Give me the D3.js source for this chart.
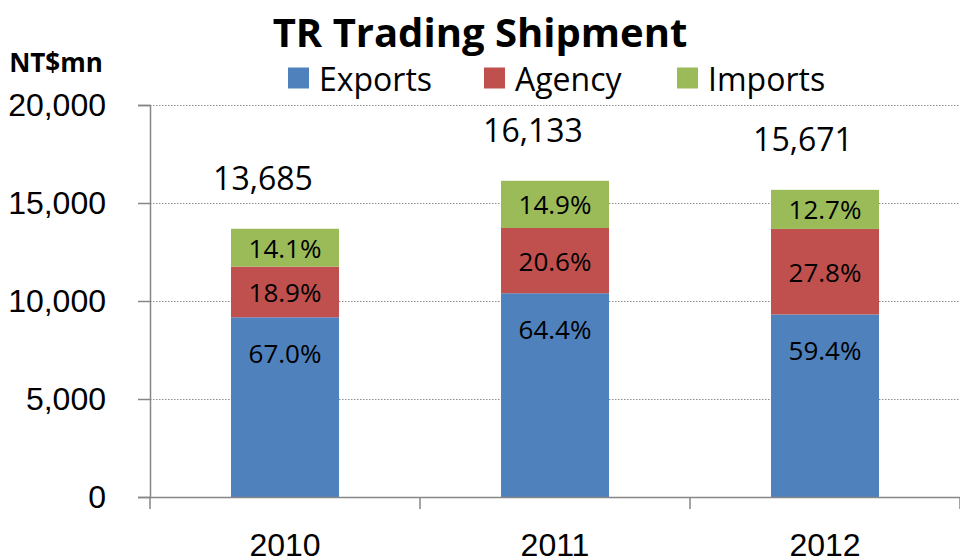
<!DOCTYPE html>
<html>
<head>
<meta charset="utf-8">
<script src="https://cdn.jsdelivr.net/npm/d3@7"></script>
<style>
  body { margin: 0; background: #fff; }
  svg { font-family: "Open Sans", "Noto Sans", sans-serif; }
</style>
</head>
<body>
<svg id="chart" width="960" height="560"></svg>
<script>
// chart values
const years = ["2010", "2011", "2012"];
const seriesNames = ["Exports", "Agency", "Imports"];
const exportsVal = [9169, 10395, 9315];
const agencyVal = [2586, 3330, 4362];
const importsVal = [1930, 2408, 1994];
const totals = [13685, 16133, 15671];
const exportsPct = ["67.0%", "64.4%", "59.4%"];
const agencyPct = ["18.9%", "20.6%", "27.8%"];
const importsPct = ["14.1%", "14.9%", "12.7%"];
const yTicks = [0, 5000, 10000, 15000, 20000];

const colors = {
    "Exports": "#4f81bd",
    "Agency": "#c0504d",
    "Imports": "#9bbb59"
};

const svg = d3.select("svg#chart");

let margin = { top: 105, right: 0, bottom: 63, left: 150 };
let plotWidth = 960 - margin.left - margin.right;
let plotHeight = 560 - margin.top - margin.bottom;

let rows = years.map((y, i) => ({
    year: y,
    Exports: exportsVal[i],
    Agency: agencyVal[i],
    Imports: importsVal[i],
    total: totals[i],
    labels: { Exports: exportsPct[i], Agency: agencyPct[i], Imports: importsPct[i] }
}));

let stacked = d3.stack().keys(seriesNames)(rows);

let x = d3.scaleBand()
    .domain(years)
    .range([0, plotWidth])
    .paddingInner(0.6)
    .paddingOuter(0.3);

let y = d3.scaleLinear()
    .domain([0, 20000])
    .range([plotHeight, 0]);

let plot = svg.append("g")
    .attr("transform", "translate(" + margin.left + "," + margin.top + ")");

// dotted gridlines
plot.append("g")
    .selectAll("line")
    .data(yTicks.filter(d => d > 0))
    .join("line")
    .attr("x1", 0)
    .attr("x2", plotWidth)
    .attr("y1", d => Math.round(y(d)) + 0.5)
    .attr("y2", d => Math.round(y(d)) + 0.5)
    .attr("stroke", "#8c8c8c")
    .attr("stroke-width", 1)
    .attr("stroke-dasharray", "1.5,1.5");

// bars
let layers = plot.append("g")
    .selectAll("g")
    .data(stacked)
    .join("g")
    .attr("fill", d => colors[d.key]);

layers.selectAll("rect")
    .data(d => d)
    .join("rect")
    .attr("x", d => x(d.data.year))
    .attr("y", d => y(d[1]))
    .attr("width", x.bandwidth())
    .attr("height", d => y(d[0]) - y(d[1]));

// percentage labels
stacked.forEach(layer => {
    plot.append("g")
        .selectAll("text")
        .data(layer)
        .join("text")
        .attr("x", d => x(d.data.year) + x.bandwidth() / 2)
        .attr("y", d => layer.key === "Exports"
            ? y(d[1]) + 36
            : (y(d[0]) + y(d[1])) / 2)
        .attr("text-anchor", "middle")
        .attr("dominant-baseline", "central")
        .attr("font-size", "26px")
        .attr("fill", "#000")
        .text(d => d.data.labels[layer.key]);
});

// totals
plot.append("g")
    .selectAll("text")
    .data(rows)
    .join("text")
    .attr("x", d => x(d.year) + x.bandwidth() / 2 - 22)
    .attr("y", d => y(d.total) - 51)
    .attr("text-anchor", "middle")
    .attr("dominant-baseline", "central")
    .attr("font-size", "32px")
    .attr("fill", "#000")
    .text(d => d3.format(",")(d.total));

// axes
let xAxis = d3.axisBottom(x).tickSize(0).tickPadding(36);
let yAxis = d3.axisLeft(y).tickValues(yTicks).tickSize(12).tickPadding(32)
    .tickFormat(d3.format(","));

let gx = plot.append("g")
    .attr("transform", "translate(0," + plotHeight + ")")
    .call(xAxis);
gx.select(".domain").attr("stroke", "#868686").attr("stroke-width", 1.5);
gx.selectAll("text").attr("font-size", "32px").attr("fill", "#000");

// category boundary ticks
let edge = i => i * x.step() - x.step() * x.paddingOuter() + x.step() * x.paddingInner() / 2;
gx.selectAll(".bound")
    .data(d3.range(years.length + 1))
    .join("line")
    .attr("class", "bound")
    .attr("x1", edge)
    .attr("x2", edge)
    .attr("y1", 0)
    .attr("y2", 12)
    .attr("stroke", "#868686")
    .attr("stroke-width", 1.5);

let gy = plot.append("g").call(yAxis);
gy.select(".domain").attr("stroke", "#868686").attr("stroke-width", 1.5);
gy.selectAll(".tick line").attr("stroke", "#868686").attr("stroke-width", 1.5);
gy.selectAll("text").attr("font-size", "32px").attr("fill", "#000");

// title and unit
svg.append("text")
    .attr("x", 480)
    .attr("y", 31)
    .attr("text-anchor", "middle")
    .attr("dominant-baseline", "central")
    .attr("font-size", "40px")
    .attr("font-weight", "bold")
    .text("TR Trading Shipment");

svg.append("text")
    .attr("x", 56)
    .attr("y", 62)
    .attr("text-anchor", "middle")
    .attr("dominant-baseline", "central")
    .attr("font-size", "26px")
    .attr("font-weight", "bold")
    .text("NT$mn");

// legend
let legendX = [288, 484, 677];
let legend = svg.append("g")
    .selectAll("g")
    .data(seriesNames)
    .join("g")
    .attr("transform", (d, i) => "translate(" + legendX[i] + ",78)");

legend.append("rect")
    .attr("x", 0)
    .attr("y", -10.5)
    .attr("width", 21)
    .attr("height", 21)
    .attr("fill", d => colors[d]);

legend.append("text")
    .attr("x", 31)
    .attr("y", 0)
    .attr("dominant-baseline", "central")
    .attr("font-size", "32px")
    .text(d => d);
</script>
</body>
</html>
